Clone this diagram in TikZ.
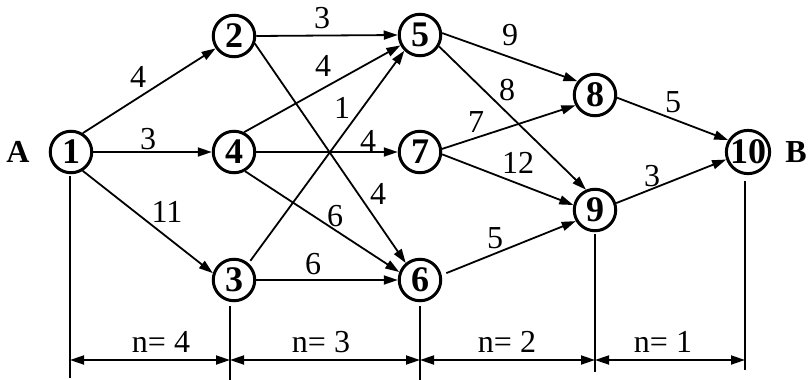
\documentclass[tikz,border=0pt]{standalone}
\usepackage{fontspec}
\setmainfont{Liberation Serif}
\usetikzlibrary{arrows.meta}

\begin{document}
\begin{tikzpicture}[
  x=1pt, y=-1pt,
  nodo/.style={draw=black, line width=3pt, circle, minimum size=41.5pt, inner sep=0pt, font=\fontsize{36}{36}\selectfont\bfseries},
  arco/.style={line width=1.8pt, -{Triangle[length=14pt, width=9pt]}},
  peso/.style={inner sep=0pt, font=\fontsize{32}{32}\selectfont},
  extremo/.style={inner sep=0pt, font=\fontsize{32}{32}\selectfont\bfseries},
  guia/.style={line width=1.8pt},
  cota/.style={line width=1.8pt, {Triangle[length=14pt, width=9pt]}-{Triangle[length=14pt, width=9pt]}}
]
\useasboundingbox (0,0) rectangle (811,380);

% sucesos
\node[nodo] (n1) at (71,152) {1};
\node[nodo] (n2) at (234,36) {2};
\node[nodo] (n4) at (234,152) {4};
\node[nodo] (n3) at (234,280) {3};
\node[nodo] (n5) at (420,35) {5};
\node[nodo] (n7) at (420,152) {7};
\node[nodo] (n6) at (420,280) {6};
\node[nodo] (n8) at (595,95) {8};
\node[nodo] (n9) at (595,210) {9};
\node[nodo] (n10) at (748,152) {10};
\node[extremo] (ea) at (18,152) {A};
\node[extremo] (eb) at (796,152) {B};

% actividades
\draw[arco] (n1.58) -- (n2.214);
\draw[arco] (n1.east) -- (n4.west);
\draw[arco] (n1.-58) -- (n3.162);
\draw[arco] (n2.east) -- (n5.west);
\draw[arco] (n2.-20) -- (n6.130);
\draw[arco] (n4.63) -- (n5.208);
\draw[arco] (n4.east) -- (n7.west);
\draw[arco] (n4.-60) -- (n6.159);
\draw[arco, shorten <=3pt] (n3.49) -- (n5.225);
\draw[arco] (n3.east) -- (n6.west);
\draw[arco] (n5.5) -- (n8.142);
\draw[arco] (n5.-31) -- (n9.114);
\draw[arco] (n7.8) -- (n8.208);
\draw[arco] (n7.-6) -- (n9.167);
\draw[arco, shorten <=5pt] (n6.13) -- (n9.210);
\draw[arco] (n8.-7) -- (n10.149);
\draw[arco] (n9.18) -- (n10.199);

% duraciones
\node[peso] (p12) at (138,77) {4};
\node[peso] (p14) at (148,139) {3};
\node[peso] (p13) at (167,212) {11};
\node[peso] (p25) at (322,18) {3};
\node[peso] (p45) at (323,66) {4};
\node[peso] (p35) at (342,108) {1};
\node[peso] (p47) at (368,141) {4};
\node[peso] (p26) at (378,194) {4};
\node[peso] (p46) at (335,216) {6};
\node[peso] (p36) at (313,264) {6};
\node[peso] (p58) at (510,35) {9};
\node[peso] (p59) at (507,90) {8};
\node[peso] (p78) at (476,122) {7};
\node[peso] (p79) at (518,163) {12};
\node[peso] (p810) at (673,102) {5};
\node[peso] (p910) at (652,176) {3};
\node[peso] (p69) at (495,238) {5};

% tramos
\coordinate (c1) at (70,378);
\coordinate (c2) at (230,380);
\coordinate (c3) at (420,380);
\coordinate (c4) at (595,372);
\coordinate (c5) at (745,370);
\draw[guia] ([yshift=-2pt]n1.south -| c1) -- (c1);
\draw[guia] ([yshift=-4pt]n3.south -| c2) -- (c2);
\draw[guia] ([yshift=-4pt]n6.south -| c3) -- (c3);
\draw[guia] ([yshift=-2pt]n9.south -| c4) -- (c4);
\draw[guia] ([yshift=-6pt]n10.south -| c5) -- (c5);
\coordinate (d1) at (70,360);
\coordinate (d2) at (230,360);
\coordinate (d3) at (420,360);
\coordinate (d4) at (595,360);
\coordinate (d5) at (745,360);
\draw[cota] (d1) -- (d2);
\draw[cota] (d2) -- (d3);
\draw[cota] (d3) -- (d4);
\draw[cota] (d4) -- (d5);
\node[peso] (t1) at (161,342) {n= 4};
\node[peso] (t2) at (321,342) {n= 3};
\node[peso] (t3) at (507,342) {n= 2};
\node[peso] (t4) at (663,342) {n= 1};
\end{tikzpicture}
\end{document}
